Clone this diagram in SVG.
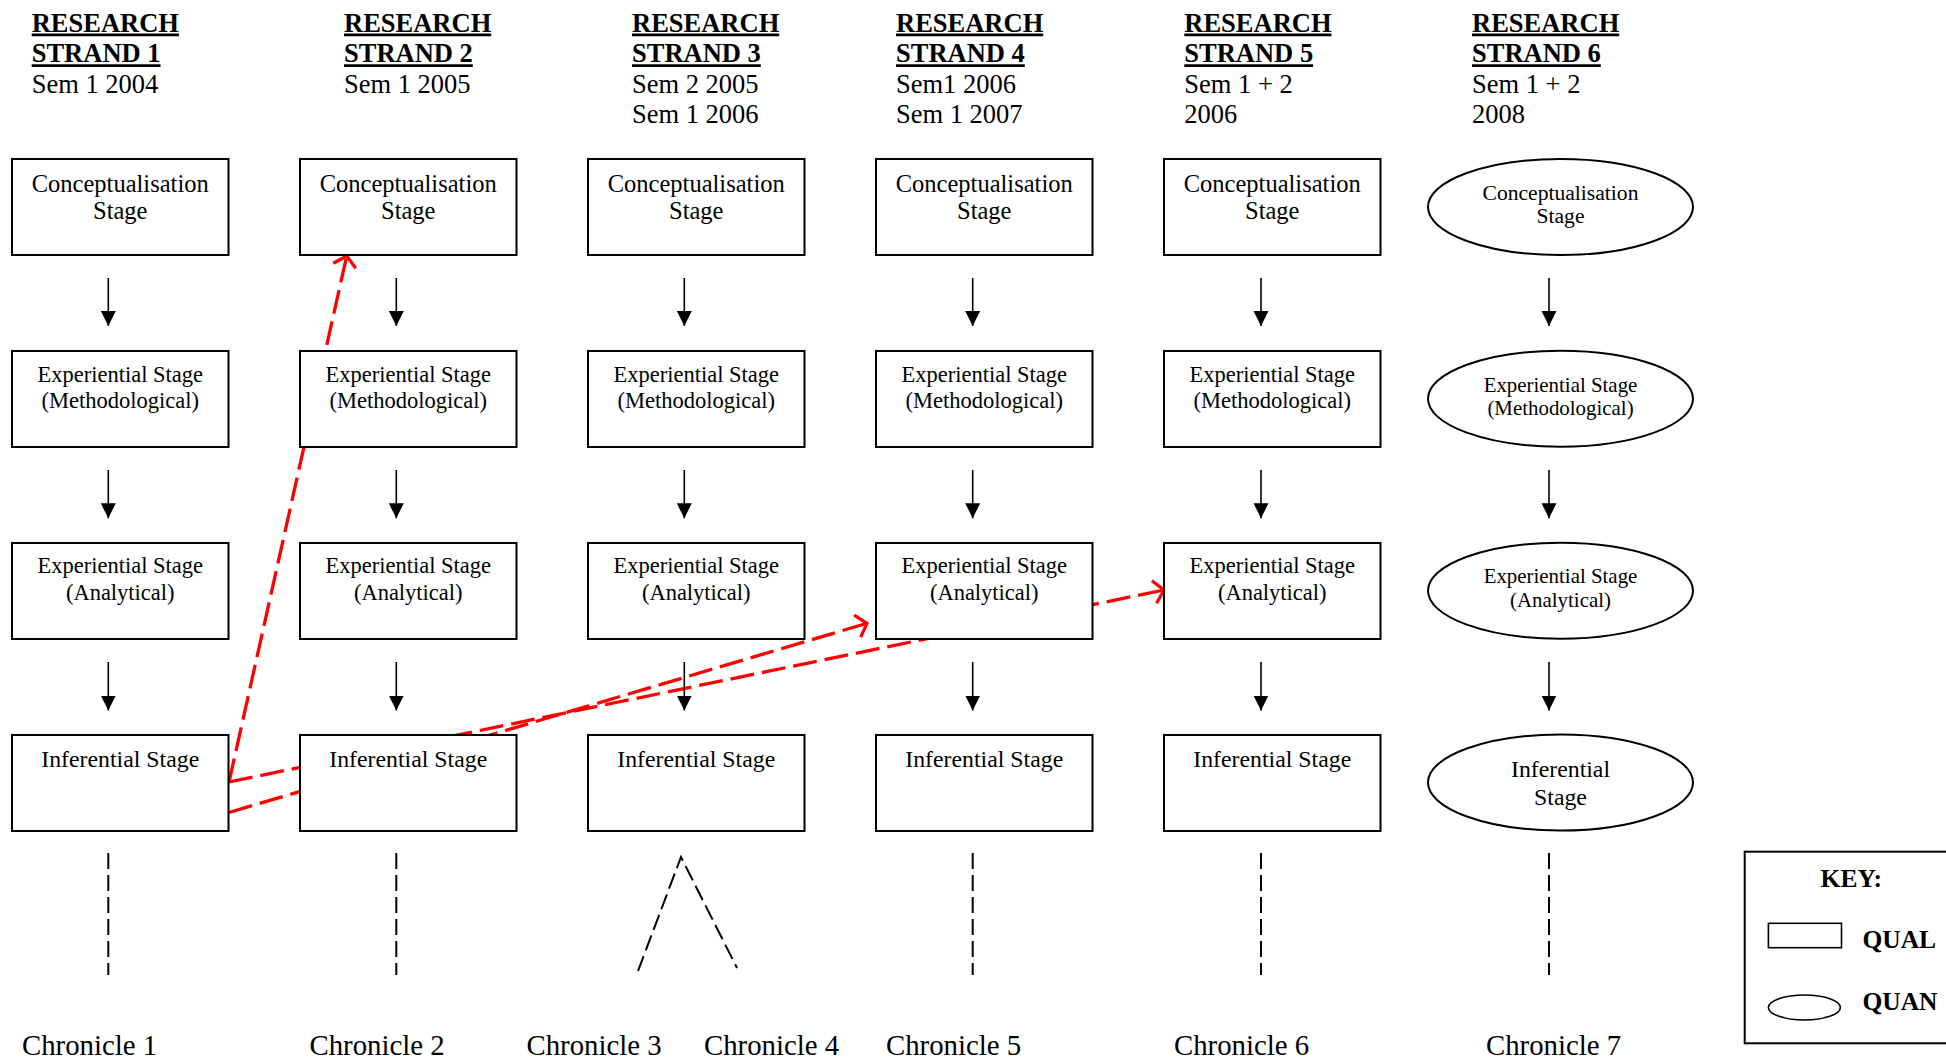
<svg xmlns="http://www.w3.org/2000/svg" width="1946" height="1061" viewBox="0 0 1946 1061">
<style>
text{font-family:"Liberation Serif","Times New Roman",serif;fill:#000}
.h{font-size:26.5px;font-weight:bold}
.s{font-size:26.5px}
.ul{stroke:#000;stroke-width:2.7}
.box{fill:#fff;stroke:#000;stroke-width:2}
.c{font-size:24.5px;text-anchor:middle}
.e{font-size:22.5px;text-anchor:middle}
.i{font-size:23.8px;text-anchor:middle}
.ec{font-size:21.6px;text-anchor:middle}
.ee{font-size:20.9px;text-anchor:middle}
.ei{font-size:23.8px;text-anchor:middle}
.arr{stroke:#000;stroke-width:1.6;fill:none}
.red{stroke:#ff0000;stroke-width:3.3;fill:none;stroke-dasharray:24 8}
.dash{stroke:#000;stroke-width:2;fill:none;stroke-dasharray:16 6}
.chr{font-size:28.8px}
.k{font-size:25.5px;font-weight:bold}
</style>
<defs>
<marker id="ah" markerUnits="userSpaceOnUse" markerWidth="16" markerHeight="16" refX="15" refY="8" orient="auto">
<path d="M0,0.5 L15,8 L0,15.5 z" fill="#000"/>
</marker>
<marker id="rh" markerUnits="userSpaceOnUse" markerWidth="30" markerHeight="30" refX="14" refY="15" orient="auto">
<path d="M4,3.5 L14,15 L4,26.5" fill="none" stroke="#ff0000" stroke-width="3.2"/>
</marker>
</defs>
<rect width="1946" height="1061" fill="#fff"/>

<g id="headings">
<g id="h1"><text class="h" x="31.7" y="31.7">RESEARCH</text><line class="ul" x1="31.7" y1="34.8" x2="178.9" y2="34.8"/><text class="h" x="31.7" y="62.3">STRAND 1</text><line class="ul" x1="31.7" y1="65.6" x2="160.5" y2="65.6"/><text class="s" x="31.7" y="92.7">Sem 1 2004</text></g>
<g id="h2"><text class="h" x="344" y="31.7">RESEARCH</text><line class="ul" x1="344" y1="34.8" x2="491.2" y2="34.8"/><text class="h" x="344" y="62.3">STRAND 2</text><line class="ul" x1="344" y1="65.6" x2="472.8" y2="65.6"/><text class="s" x="344" y="92.7">Sem 1 2005</text></g>
<g id="h3"><text class="h" x="632" y="31.7">RESEARCH</text><line class="ul" x1="632" y1="34.8" x2="779.2" y2="34.8"/><text class="h" x="632" y="62.3">STRAND 3</text><line class="ul" x1="632" y1="65.6" x2="760.8" y2="65.6"/><text class="s" x="632" y="92.7">Sem 2 2005</text><text class="s" x="632" y="122.7">Sem 1 2006</text></g>
<g id="h4"><text class="h" x="896" y="31.7">RESEARCH</text><line class="ul" x1="896" y1="34.8" x2="1043.2" y2="34.8"/><text class="h" x="896" y="62.3">STRAND 4</text><line class="ul" x1="896" y1="65.6" x2="1024.8" y2="65.6"/><text class="s" x="896" y="92.7">Sem1 2006</text><text class="s" x="896" y="122.7">Sem 1 2007</text></g>
<g id="h5"><text class="h" x="1184.3" y="31.7">RESEARCH</text><line class="ul" x1="1184.3" y1="34.8" x2="1331.5" y2="34.8"/><text class="h" x="1184.3" y="62.3">STRAND 5</text><line class="ul" x1="1184.3" y1="65.6" x2="1313.1" y2="65.6"/><text class="s" x="1184.3" y="92.7">Sem 1 + 2</text><text class="s" x="1184.3" y="122.7">2006</text></g>
<g id="h6"><text class="h" x="1472" y="31.7">RESEARCH</text><line class="ul" x1="1472" y1="34.8" x2="1619.2" y2="34.8"/><text class="h" x="1472" y="62.3">STRAND 6</text><line class="ul" x1="1472" y1="65.6" x2="1600.8" y2="65.6"/><text class="s" x="1472" y="92.7">Sem 1 + 2</text><text class="s" x="1472" y="122.7">2008</text></g>
</g>

<g id="connectors">
<path class="red" d="M229,782 L346.7,256" marker-end="url(#rh)"/>
<path class="red" d="M229,782 L1164,590" marker-end="url(#rh)"/>
<path class="red" d="M229,812.5 L867,623.3" marker-end="url(#rh)"/>
<g id="arrows">
<line class="arr" x1="108.3" y1="278" x2="108.3" y2="326" marker-end="url(#ah)"/>
<line class="arr" x1="108.3" y1="470" x2="108.3" y2="518.3" marker-end="url(#ah)"/>
<line class="arr" x1="108.3" y1="662" x2="108.3" y2="710.5" marker-end="url(#ah)"/>
<line class="arr" x1="396.3" y1="278" x2="396.3" y2="326" marker-end="url(#ah)"/>
<line class="arr" x1="396.3" y1="470" x2="396.3" y2="518.3" marker-end="url(#ah)"/>
<line class="arr" x1="396.3" y1="662" x2="396.3" y2="710.5" marker-end="url(#ah)"/>
<line class="arr" x1="684.3" y1="278" x2="684.3" y2="326" marker-end="url(#ah)"/>
<line class="arr" x1="684.3" y1="470" x2="684.3" y2="518.3" marker-end="url(#ah)"/>
<line class="arr" x1="684.3" y1="662" x2="684.3" y2="710.5" marker-end="url(#ah)"/>
<line class="arr" x1="972.7" y1="278" x2="972.7" y2="326" marker-end="url(#ah)"/>
<line class="arr" x1="972.7" y1="470" x2="972.7" y2="518.3" marker-end="url(#ah)"/>
<line class="arr" x1="972.7" y1="662" x2="972.7" y2="710.5" marker-end="url(#ah)"/>
<line class="arr" x1="1261" y1="278" x2="1261" y2="326" marker-end="url(#ah)"/>
<line class="arr" x1="1261" y1="470" x2="1261" y2="518.3" marker-end="url(#ah)"/>
<line class="arr" x1="1261" y1="662" x2="1261" y2="710.5" marker-end="url(#ah)"/>
<line class="arr" x1="1549" y1="278" x2="1549" y2="326" marker-end="url(#ah)"/>
<line class="arr" x1="1549" y1="470" x2="1549" y2="518.3" marker-end="url(#ah)"/>
<line class="arr" x1="1549" y1="662" x2="1549" y2="710.5" marker-end="url(#ah)"/>
</g>
<g id="chronicle-lines">
<line class="dash" x1="108.3" y1="853" x2="108.3" y2="975"/>
<line class="dash" x1="396.3" y1="853" x2="396.3" y2="975"/>
<path class="dash" d="M638,971 L681,857 L737,968"/>
<line class="dash" x1="972.7" y1="853" x2="972.7" y2="975"/>
<line class="dash" x1="1261" y1="853" x2="1261" y2="975"/>
<line class="dash" x1="1549" y1="853" x2="1549" y2="975"/>
</g>
</g>

<g id="strand1">
<g id="s1-concept"><rect class="box" x="12" y="159" width="216.5" height="96"/><text class="c" x="120.25" y="191.7">Conceptualisation</text><text class="c" x="120.25" y="219">Stage</text></g>
<g id="s1-method"><rect class="box" x="12" y="351" width="216.5" height="96"/><text class="e" x="120.25" y="381.7">Experiential Stage</text><text class="e" x="120.25" y="408.3">(Methodological)</text></g>
<g id="s1-analyt"><rect class="box" x="12" y="543" width="216.5" height="96"/><text class="e" x="120.25" y="573.3">Experiential Stage</text><text class="e" x="120.25" y="600">(Analytical)</text></g>
<g id="s1-infer"><rect class="box" x="12" y="735" width="216.5" height="96"/><text class="i" x="120.25" y="766.7">Inferential Stage</text></g>
</g>
<g id="strand2">
<g id="s2-concept"><rect class="box" x="300" y="159" width="216.5" height="96"/><text class="c" x="408.25" y="191.7">Conceptualisation</text><text class="c" x="408.25" y="219">Stage</text></g>
<g id="s2-method"><rect class="box" x="300" y="351" width="216.5" height="96"/><text class="e" x="408.25" y="381.7">Experiential Stage</text><text class="e" x="408.25" y="408.3">(Methodological)</text></g>
<g id="s2-analyt"><rect class="box" x="300" y="543" width="216.5" height="96"/><text class="e" x="408.25" y="573.3">Experiential Stage</text><text class="e" x="408.25" y="600">(Analytical)</text></g>
<g id="s2-infer"><rect class="box" x="300" y="735" width="216.5" height="96"/><text class="i" x="408.25" y="766.7">Inferential Stage</text></g>
</g>
<g id="strand3">
<g id="s3-concept"><rect class="box" x="588" y="159" width="216.5" height="96"/><text class="c" x="696.25" y="191.7">Conceptualisation</text><text class="c" x="696.25" y="219">Stage</text></g>
<g id="s3-method"><rect class="box" x="588" y="351" width="216.5" height="96"/><text class="e" x="696.25" y="381.7">Experiential Stage</text><text class="e" x="696.25" y="408.3">(Methodological)</text></g>
<g id="s3-analyt"><rect class="box" x="588" y="543" width="216.5" height="96"/><text class="e" x="696.25" y="573.3">Experiential Stage</text><text class="e" x="696.25" y="600">(Analytical)</text></g>
<g id="s3-infer"><rect class="box" x="588" y="735" width="216.5" height="96"/><text class="i" x="696.25" y="766.7">Inferential Stage</text></g>
</g>
<g id="strand4">
<g id="s4-concept"><rect class="box" x="876" y="159" width="216.5" height="96"/><text class="c" x="984.25" y="191.7">Conceptualisation</text><text class="c" x="984.25" y="219">Stage</text></g>
<g id="s4-method"><rect class="box" x="876" y="351" width="216.5" height="96"/><text class="e" x="984.25" y="381.7">Experiential Stage</text><text class="e" x="984.25" y="408.3">(Methodological)</text></g>
<g id="s4-analyt"><rect class="box" x="876" y="543" width="216.5" height="96"/><text class="e" x="984.25" y="573.3">Experiential Stage</text><text class="e" x="984.25" y="600">(Analytical)</text></g>
<g id="s4-infer"><rect class="box" x="876" y="735" width="216.5" height="96"/><text class="i" x="984.25" y="766.7">Inferential Stage</text></g>
</g>
<g id="strand5">
<g id="s5-concept"><rect class="box" x="1164" y="159" width="216.5" height="96"/><text class="c" x="1272.25" y="191.7">Conceptualisation</text><text class="c" x="1272.25" y="219">Stage</text></g>
<g id="s5-method"><rect class="box" x="1164" y="351" width="216.5" height="96"/><text class="e" x="1272.25" y="381.7">Experiential Stage</text><text class="e" x="1272.25" y="408.3">(Methodological)</text></g>
<g id="s5-analyt"><rect class="box" x="1164" y="543" width="216.5" height="96"/><text class="e" x="1272.25" y="573.3">Experiential Stage</text><text class="e" x="1272.25" y="600">(Analytical)</text></g>
<g id="s5-infer"><rect class="box" x="1164" y="735" width="216.5" height="96"/><text class="i" x="1272.25" y="766.7">Inferential Stage</text></g>
</g>
<g id="strand6">
<g id="s6-concept"><ellipse class="box" cx="1560.5" cy="207" rx="132.5" ry="48"/><text class="ec" x="1560.5" y="200">Conceptualisation</text><text class="ec" x="1560.5" y="222.7">Stage</text></g>
<g id="s6-method"><ellipse class="box" cx="1560.5" cy="398.7" rx="132.5" ry="48"/><text class="ee" x="1560.5" y="391.7">Experiential Stage</text><text class="ee" x="1560.5" y="415">(Methodological)</text></g>
<g id="s6-analyt"><ellipse class="box" cx="1560.5" cy="590.7" rx="132.5" ry="48"/><text class="ee" x="1560.5" y="583.3">Experiential Stage</text><text class="ee" x="1560.5" y="607.3">(Analytical)</text></g>
<g id="s6-infer"><ellipse class="box" cx="1560.5" cy="782.5" rx="132.5" ry="48"/><text class="ei" x="1560.5" y="777.3">Inferential</text><text class="ei" x="1560.5" y="805">Stage</text></g>
</g>

<g id="chronicles">
<text class="chr" x="22" y="1055">Chronicle 1</text>
<text class="chr" x="309.5" y="1055">Chronicle 2</text>
<text class="chr" x="526.5" y="1055">Chronicle 3</text>
<text class="chr" x="704" y="1055">Chronicle 4</text>
<text class="chr" x="886" y="1055">Chronicle 5</text>
<text class="chr" x="1174" y="1055">Chronicle 6</text>
<text class="chr" x="1486" y="1055">Chronicle 7</text>
</g>

<g id="key">
<rect x="1744.7" y="851.7" width="230" height="191.6" fill="#fff" stroke="#000" stroke-width="2"/>
<text class="k" x="1820.6" y="886.7">KEY:</text>
<rect x="1768.4" y="923.3" width="73.1" height="24.4" fill="#fff" stroke="#000" stroke-width="1.6"/>
<text class="k" x="1862.4" y="948.3">QUAL</text>
<ellipse cx="1804.4" cy="1007.5" rx="36" ry="12.5" fill="#fff" stroke="#000" stroke-width="1.6"/>
<text class="k" x="1862.4" y="1010">QUAN</text>
</g>
</svg>
